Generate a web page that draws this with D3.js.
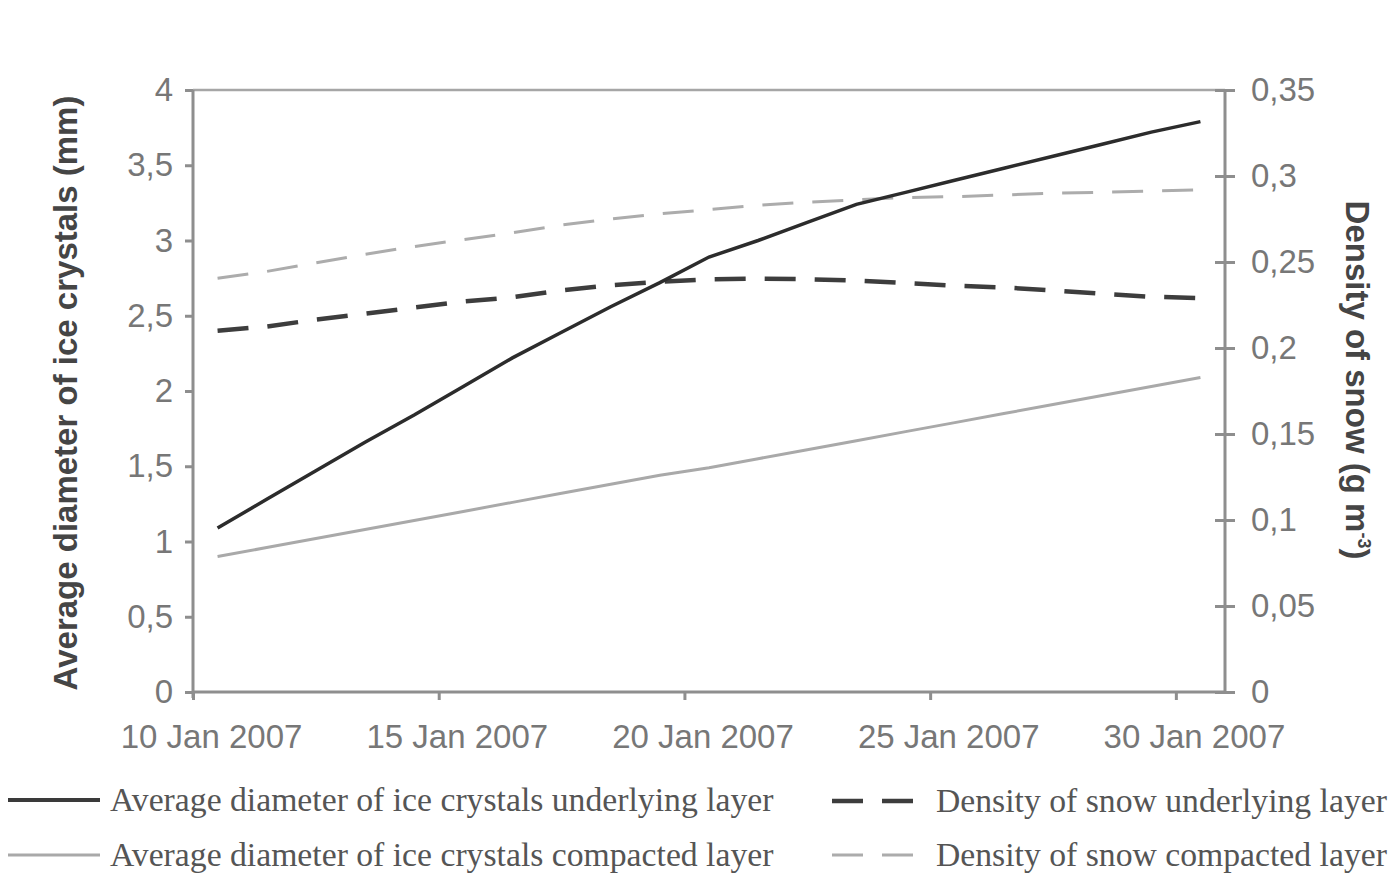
<!DOCTYPE html>
<html>
<head>
<meta charset="utf-8">
<script src="https://cdn.jsdelivr.net/npm/d3@7"></script>
<style>
  html, body { margin: 0; padding: 0; background: #fff; }
  svg { display: block; }
</style>
</head>
<body>
<svg id="chart" width="1400" height="874"></svg>
<script>
// ---- data ----
const days = ["2007-01-10","2007-01-11","2007-01-12","2007-01-13","2007-01-14","2007-01-15","2007-01-16",
              "2007-01-17","2007-01-18","2007-01-19","2007-01-20","2007-01-21","2007-01-22","2007-01-23",
              "2007-01-24","2007-01-25","2007-01-26","2007-01-27","2007-01-28","2007-01-29","2007-01-30"];
const diamUnderlying = [1.09,1.28,1.47,1.66,1.84,2.03,2.22,2.39,2.56,2.72,2.89,3.00,3.12,3.24,3.32,3.40,3.48,3.56,3.64,3.72,3.79];
const diamCompacted  = [0.90,0.96,1.02,1.08,1.14,1.20,1.26,1.32,1.38,1.44,1.49,1.55,1.61,1.67,1.73,1.79,1.85,1.91,1.97,2.03,2.09];
const densUnderlying = [0.210,0.2125,0.2165,0.220,0.2235,0.227,0.2295,0.2335,0.2365,0.2385,0.240,0.2403,0.240,0.2392,0.2378,0.2362,0.2352,0.2335,0.2315,0.2298,0.229];
const densCompacted  = [0.2405,0.2445,0.2495,0.2545,0.259,0.263,0.267,0.2715,0.275,0.278,0.2805,0.283,0.2848,0.2862,0.2875,0.288,0.289,0.290,0.2905,0.2912,0.292];
const xLabelDays = ["2007-01-10","2007-01-15","2007-01-20","2007-01-25","2007-01-30"];
const xLabels    = ["10 Jan 2007","15 Jan 2007","20 Jan 2007","25 Jan 2007","30 Jan 2007"];
const leftTicks  = [0,0.5,1,1.5,2,2.5,3,3.5,4];
const rightTicks = [0,0.05,0.1,0.15,0.2,0.25,0.3,0.35];
const leftTitle  = "Average diameter of ice crystals (mm)";
const rightTitle = "Density of snow (g m";
const legendLabels = ["Average diameter of ice crystals underlying layer",
                      "Average diameter of ice crystals compacted layer",
                      "Density of snow underlying layer",
                      "Density of snow compacted layer"];

// ---- layout ----
const L = 193, R = 1225, T = 90, B = 692;
const svg = d3.select("#chart");
const locale = d3.formatLocale({decimal: ",", thousands: ".", grouping: [3], currency: ["", ""]});
const fmt = v => locale.format("~g")(v);

const x = d3.scaleBand().domain(days).range([L, R]).padding(0);
const xc = d => x(d) + x.bandwidth() / 2;
const yL = d3.scaleLinear().domain([0, 4]).range([B, T]);
const yR = d3.scaleLinear().domain([0, 0.35]).range([B, T]);

const axisColor = "#8e8e8e";
const tickFont = "'Liberation Sans', Arial, sans-serif";
const tickSize = 33;
const tickColor = "#777";

// top border
svg.append("line").attr("x1", L).attr("x2", R).attr("y1", T).attr("y2", T)
  .attr("stroke", "#a6a6a6").attr("stroke-width", 2.5);

// left axis
const gL = svg.append("g").attr("transform", `translate(${L},0)`)
  .call(d3.axisLeft(yL).tickValues(leftTicks).tickFormat(fmt).tickSize(8).tickPadding(12));
// right axis
const gR = svg.append("g").attr("transform", `translate(${R},0)`)
  .call(d3.axisRight(yR).tickValues(rightTicks).tickFormat(fmt).tickSize(10).tickPadding(16));
gR.selectAll(".tick line").attr("x1", -10).attr("x2", 10);
// bottom axis
const boundaries = days.map(d => x(d)).concat([R]);
const gB = svg.append("g").attr("transform", `translate(0,${B})`)
  .call(d3.axisBottom(d3.scaleLinear().domain([L, R]).range([L, R]))
    .tickValues(boundaries.filter((v, i) => i % 5 === 0)).tickFormat("").tickSize(8));
// x labels at category centres
svg.append("g").selectAll("text").data(xLabelDays).join("text")
  .attr("x", d => xc(d) - 6).attr("y", B + 56)
  .attr("text-anchor", "middle")
  .attr("font-family", tickFont).attr("font-size", tickSize).attr("fill", tickColor)
  .text((d, i) => xLabels[i]);

[gL, gR, gB].forEach(g => {
  g.select(".domain").attr("stroke", axisColor).attr("stroke-width", 3);
  g.selectAll(".tick line").attr("stroke", axisColor).attr("stroke-width", 3);
  g.selectAll(".tick text").attr("font-family", tickFont).attr("font-size", tickSize).attr("fill", tickColor);
});
gL.select(".domain").attr("d", `M0,${T}V${B + 6}`);
gR.select(".domain").attr("d", `M0,${T}V${B + 2}`);
gB.select(".domain").attr("d", `M${L},0H${R}`);

// ---- lines ----
const lineL = d3.line().x((d, i) => xc(days[i])).y(d => yL(d));
const lineR = d3.line().x((d, i) => xc(days[i])).y(d => yR(d));

svg.append("path").datum(diamCompacted).attr("d", lineL)
  .attr("fill", "none").attr("stroke", "#a9a9a9").attr("stroke-width", 3);
svg.append("path").datum(densCompacted).attr("d", lineR)
  .attr("fill", "none").attr("stroke", "#acacac").attr("stroke-width", 3)
  .attr("stroke-dasharray", "31,19");
svg.append("path").datum(densUnderlying).attr("d", lineR)
  .attr("fill", "none").attr("stroke", "#3d3d3d").attr("stroke-width", 4.5)
  .attr("stroke-dasharray", "31,19");
svg.append("path").datum(diamUnderlying).attr("d", lineL)
  .attr("fill", "none").attr("stroke", "#2c2c2c").attr("stroke-width", 3.5);

// ---- axis titles ----
svg.append("text")
  .attr("transform", `translate(77,${(T + B) / 2 + 2}) rotate(-90)`)
  .attr("text-anchor", "middle")
  .attr("font-family", tickFont).attr("font-weight", "bold").attr("font-size", 33)
  .attr("fill", "#454545").text(leftTitle);
const rt = svg.append("text")
  .attr("transform", `translate(1346,380) rotate(90)`)
  .attr("text-anchor", "middle")
  .attr("font-family", tickFont).attr("font-weight", "bold").attr("font-size", 33)
  .attr("fill", "#454545");
rt.append("tspan").text(rightTitle);
rt.append("tspan").attr("font-size", 18).attr("dy", -12).text("-3");
rt.append("tspan").attr("dy", 12).text(")");

// ---- legend ----
const legendFont = "'Liberation Serif', 'Times New Roman', serif";
const legendItems = [
  {x1: 8,   x2: 100, y: 800, tx: 110, stroke: "#3a3a3a", w: 4,   dash: null,   label: legendLabels[0]},
  {x1: 8,   x2: 100, y: 855, tx: 110, stroke: "#a9a9a9", w: 3,   dash: null,   label: legendLabels[1]},
  {x1: 832, x2: 913, y: 801, tx: 936, stroke: "#3d3d3d", w: 4.5, dash: "31,19", label: legendLabels[2]},
  {x1: 832, x2: 913, y: 855, tx: 936, stroke: "#acacac", w: 3,   dash: "31,19", label: legendLabels[3]}
];
const lg = svg.append("g").selectAll("g").data(legendItems).join("g");
lg.append("line").attr("x1", d => d.x1).attr("x2", d => d.x2).attr("y1", d => d.y).attr("y2", d => d.y)
  .attr("stroke", d => d.stroke).attr("stroke-width", d => d.w)
  .attr("stroke-dasharray", d => d.dash);
lg.append("text").attr("x", d => d.tx).attr("y", d => d.y + 11)
  .attr("font-family", legendFont).attr("font-size", 33.7).attr("fill", "#555")
  .text(d => d.label);
</script>
</body>
</html>
